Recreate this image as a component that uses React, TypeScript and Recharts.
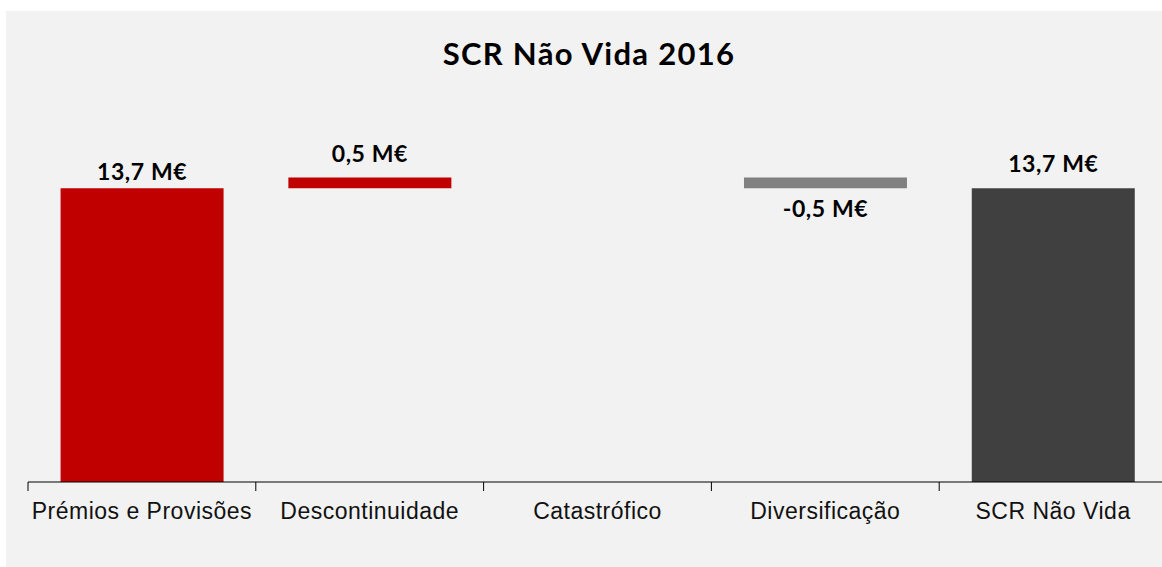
import React from 'react';
import { BarChart, Bar, XAxis, YAxis, Cell, LabelList } from 'recharts';

const categories = ['Prémios e Provisões', 'Descontinuidade', 'Catastrófico', 'Diversificação', 'SCR Não Vida'];
const values = [13.7, 0.5, 0, -0.5, 13.7];
const isTotal = [true, false, false, false, true];
const barColors = ['#c00000', '#c00000', '#c00000', '#808080', '#404040'];
const valueLabels = ['13,7 M€', '0,5 M€', '', '-0,5 M€', '13,7 M€'];

// waterfall: invisible base + visible step
let running = 0;
const data = categories.map((name, i) => {
  const v = values[i];
  let base = 0;
  let step = v;
  if (isTotal[i]) {
    running = v;
  } else {
    base = Math.min(running, running + v);
    step = Math.abs(v);
    running += v;
  }
  return { name, base, step, raw: v };
});

const BoundaryTick = (props: any) => {
  const { x, y, payload } = props;
  const half = payload && payload.offset ? payload.offset : 113.9;
  return (
    <g>
      <line x1={x - half} y1={y - 21} x2={x - half} y2={y - 12} stroke="#000" strokeWidth={1} />
      <text
        x={x}
        y={y}
        dy="0.71em"
        textAnchor="middle"
        fill="#111"
        style={{ fontFamily: '"Liberation Sans", Arial, sans-serif', fontSize: 23, letterSpacing: 0.5 }}
      >
        {payload.value}
      </text>
    </g>
  );
};

const ValueLabel = (props: any) => {
  const { x, y, width, height, value } = props;
  const i = categories.indexOf(value);
  const text = valueLabels[i];
  if (!text) return null;
  const cx = x + width / 2;
  let ty: number;
  if (values[i] < 0) {
    ty = y + height + 29;
  } else {
    ty = y - (i === 0 ? 8 : 16);
  }
  return (
    <text
      x={cx}
      y={ty}
      textAnchor="middle"
      fill="#000"
      style={{ fontFamily: 'Lato, "Open Sans", sans-serif', fontSize: 23, fontWeight: 700, letterSpacing: 0.6 }}
    >
      {text}
    </text>
  );
};

export default function App() {
  return (
    <div style={{ position: 'absolute', left: 0, top: 0, width: 1162, height: 567, background: '#fff' }}>
      <div
        style={{
          position: 'absolute',
          left: 6,
          top: 11,
          width: 1156,
          height: 556,
          background: '#f2f2f2',
          overflow: 'hidden',
        }}
      >
        <div
          style={{
            position: 'absolute',
            left: 383,
            top: 27,
            width: 400,
            textAlign: 'center',
            fontFamily: 'Lato, "Open Sans", sans-serif',
            fontWeight: 700,
            fontSize: 31,
            letterSpacing: 1.3,
            lineHeight: '31px',
            color: '#000',
          }}
        >
          SCR Não Vida 2016
        </div>
        <BarChart
          width={1164}
          height={556}
          data={data}
          margin={{ top: 128, right: 3, left: 22, bottom: 45 }}
          barCategoryGap="14.3%"
        >
          <XAxis
            dataKey="name"
            axisLine={{ stroke: '#000', strokeWidth: 1 }}
            tickLine={false}
            tickSize={0}
            tickMargin={21}
            interval={0}
            height={40}
            tick={<BoundaryTick />}
          />
          <YAxis hide domain={[0, 16]} />
          <Bar dataKey="base" stackId="w" fill="transparent" isAnimationActive={false} />
          <Bar dataKey="step" stackId="w" isAnimationActive={false}>
            {data.map((_, i) => (
              <Cell key={`cell-${i}`} fill={barColors[i]} />
            ))}
            <LabelList dataKey="name" content={<ValueLabel />} />
          </Bar>
        </BarChart>
      </div>
    </div>
  );
}
